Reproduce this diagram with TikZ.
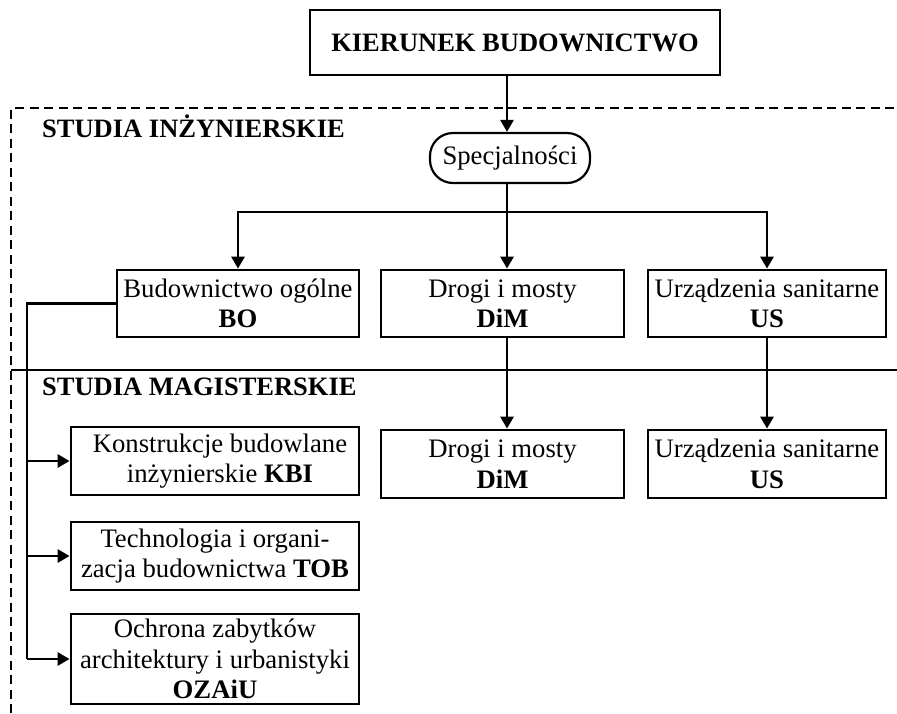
\documentclass[tikz,border=0pt]{standalone}
\usepackage{fontspec}
\setmainfont{Liberation Serif}
\usetikzlibrary{arrows.meta}
\begin{document}
\begin{tikzpicture}[x=1pt,y=-1pt,
  txt/.style={font=\fontsize{26.7}{30.5}\selectfont},
  box/.style={draw,line width=2.8pt,inner sep=0pt,align=center,txt},
  conn/.style={line width=2.8pt},
  arr/.style={conn,-{Triangle[length=12pt,width=13pt]}},
  sep/.style={line width=1.8pt},
  hdr/.style={font=\fontsize{26.5}{30}\selectfont\bfseries,anchor=base west,inner sep=0pt}]
\useasboundingbox (0,0) rectangle (897,713);
% separators
\draw[sep,dash pattern=on 9pt off 5.5pt] (11,713) -- (11,108) -- (897,108);
\draw[sep] (11,370) -- (897,370);
% headers
\node[hdr] (h1) at (42,137) {STUDIA INŻYNIERSKIE};
\node[hdr] (h2) at (42,395) {STUDIA MAGISTERSKIE};
% nodes
\node[box,minimum width=410pt,minimum height=65pt,font=\fontsize{26.5}{30}\selectfont\bfseries] (top) at (515,42.5) {KIERUNEK BUDOWNICTWO};
\node[draw,line width=2.2pt,rounded corners=23pt,minimum width=160pt,minimum height=50pt,inner sep=0pt,txt] (spec) at (510,158) {Specjalności};
\node[box,minimum width=242pt,minimum height=67pt] (bo) at (238,303.5) {Budownictwo ogólne\\\textbf{BO}};
\node[box,minimum width=243pt,minimum height=67pt] (dim1) at (502.5,303.5) {Drogi i mosty\\\textbf{DiM}};
\node[box,minimum width=238pt,minimum height=67pt] (us1) at (767,303.5) {Urządzenia sanitarne\\\textbf{US}};
\node[box,minimum width=243pt,minimum height=68pt] (dim2) at (502.5,464) {Drogi i mosty\\\textbf{DiM}};
\node[box,minimum width=238pt,minimum height=68pt] (us2) at (767,464) {Urządzenia sanitarne\\\textbf{US}};
\node[box,minimum width=288pt,minimum height=68pt] (kbi) at (215,461) {\hspace*{10pt}Konstrukcje budowlane\\\hspace*{10pt}inżynierskie \textbf{KBI}};
\node[box,minimum width=288pt,minimum height=68pt] (tob) at (215,556) {Technologia i organi-\\zacja budownictwa \textbf{TOB}};
\node[box,minimum width=288pt,minimum height=90pt] (oz) at (215,659) {Ochrona zabytków\\architektury i urbanistyki\\\textbf{OZAiU}};
% helper coordinates
\coordinate (mx) at (507,0);
\coordinate (bar) at (507,212);
\coordinate (sp) at (27,303.5);
% connectors
\draw[arr] (top.south -| mx) -- (spec.north -| mx);
\draw[conn] (spec.south -| mx) -- (bar);
\draw[arr] (bar) -| (bo.north);
\draw[arr] (bar) -| (us1.north);
\draw[arr] (bar) -- (dim1.north -| bar);
\draw[arr] (dim1.south -| mx) -- (dim2.north -| mx);
\draw[arr] (us1.south) -- (us2.north);
\draw[conn] (bo.west) -- (sp) -- (sp |- oz.west);
\draw[arr] (sp |- kbi.west) -- (kbi.west);
\draw[arr] (sp |- tob.west) -- (tob.west);
\draw[arr] (sp |- oz.west) -- (oz.west);
\end{tikzpicture}
\end{document}
